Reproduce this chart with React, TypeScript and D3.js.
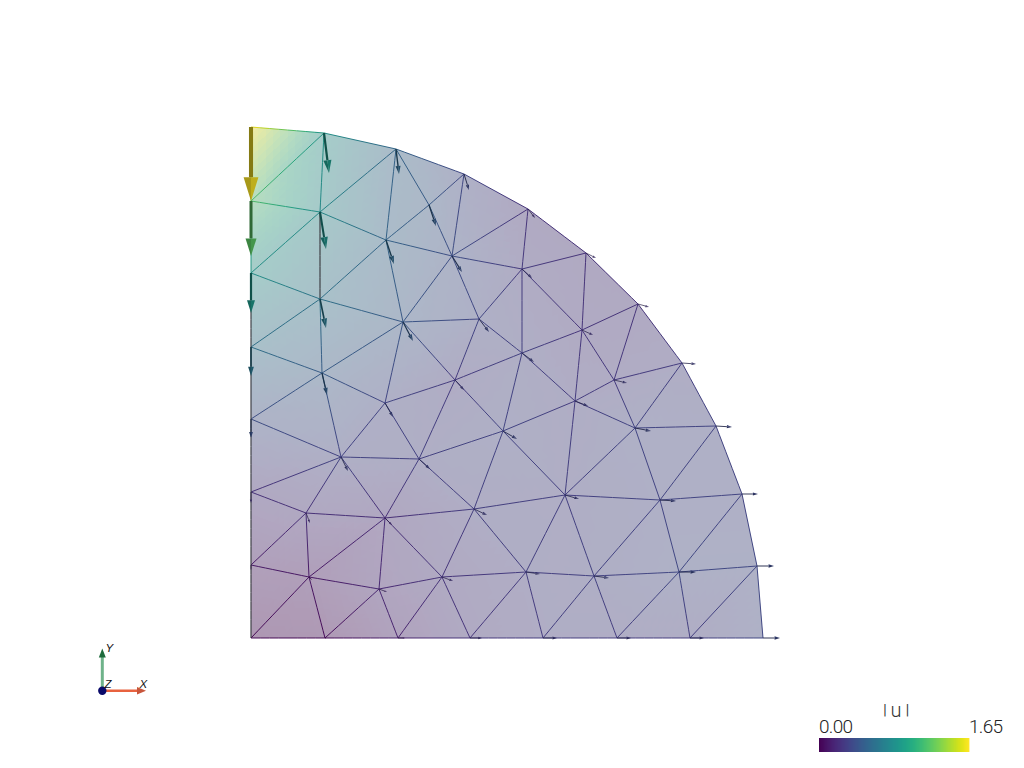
import React from "react";
import * as d3 from "d3";

// Mesh node positions (units: quarter-disc radius = 512)
const nodeX = [0,0,0,0,0,0,0,0,74,147,219,292,366,439,512,73,145,213,277,335,387,431,465,491,506,69,69,71,135,152,178,201,228,204,134,90,168,271,271,331,363,324,384,252,223,134,55,58,128,191,275,343,314,409,428];
const nodeY = [511,437,365,291,219,146,73,0,0,0,0,0,0,0,0,505,489,464,429,385,334,275,212,144,72,426,339,265,398,316,433,382,319,258,235,181,179,369,285,308,258,237,210,207,129,120,125,61,49,61,66,62,143,138,66];
// Displacement vectors at the nodes (same units)
const dispX = [0,0,0,0,0,0,0,0,1,7,12,14,14,14,17,5,3,5,7,10,11,14,16,16,17,6,6,5,8,10,7,10,10,9,8,7,11,10,12,11,13,13,16,14,13,7,4,3,8,11,14,15,14,16,17];
const dispY = [-74,-55,-40,-29,-19,-11,-5,0,0,0,0,0,0,0,0,-40,-25,-16,-9,-5,-3,-1,-1,0,0,-37,-29,-22,-24,-19,-21,-16,-13,-10,-14,-14,-10,-9,-9,-5,-3,-5,-3,-8,-6,-7,-10,-3,-3,-4,-2,-2,-4,-1,0];
// Mesh connectivity
const triangles: [number, number, number][] = [[0,15,1],[15,25,1],[1,25,2],[25,26,2],[2,26,3],[26,27,3],[3,27,4],[4,27,35],[4,35,5],[5,35,46],[5,46,6],[6,46,47],[6,47,7],[7,47,8],[47,48,8],[8,48,9],[9,48,49],[9,49,10],[10,49,50],[10,50,11],[11,50,51],[11,51,12],[12,51,54],[12,54,13],[13,54,24],[13,24,14],[54,23,24],[54,53,23],[53,22,23],[53,42,22],[42,21,22],[42,40,21],[40,20,21],[40,39,20],[39,19,20],[39,37,19],[37,18,19],[37,31,18],[31,17,18],[31,30,17],[30,16,17],[30,28,16],[28,25,16],[25,15,16],[25,28,26],[26,28,29],[26,29,27],[27,29,34],[27,34,35],[35,34,36],[34,33,36],[34,29,33],[29,32,33],[29,31,32],[28,31,29],[28,30,31],[31,37,32],[32,37,38],[32,38,33],[37,39,38],[38,39,41],[39,40,41],[41,40,42],[38,41,43],[33,38,43],[33,43,36],[36,43,44],[43,52,44],[43,41,52],[41,42,52],[42,53,52],[52,53,51],[53,54,51],[52,51,50],[44,52,50],[44,50,49],[45,44,49],[36,44,45],[35,36,45],[35,45,46],[46,45,47],[45,48,47],[45,49,48]];
// Mesh edges that read as dark grey in the picture
const greyEdges = ["25-26", "2-3", "3-4", "4-5", "5-6", "6-7"];

const colorbarTitleLeft = "|";
const colorbarTitleMid = "u";
const colorbarTitleRight = "|";
const colorbarMin = "0.00";
const colorbarMax = "1.65";
const axisLabels = ["Y", "Z", "X"];
const UNITS_PER_MAGNITUDE = 74 / 1.65;

const x = d3.scaleLinear().domain([0, 512]).range([251, 763]);
const y = d3.scaleLinear().domain([0, 511]).range([638, 127]);
const magnitude = nodeX.map((_, i) => Math.hypot(dispX[i], dispY[i]) / UNITS_PER_MAGNITUDE);
const t = d3.scalePow().exponent(1.05).domain([0, 1.65]).range([0, 1]).clamp(true);
const raw = d3.scaleLinear().domain([0, 1.65]).range([0, 1]).clamp(true);
const viridis = (v: number) => d3.rgb(d3.interpolateViridis(t(v)));

const OPACITY = 0.385;
const SHADE = 0.96;
const DESAT = 0.12;
function surface(v: number) {
  const c = viridis(v);
  const m = (a: number) => (a * OPACITY + 255 * (1 - OPACITY)) * SHADE;
  const r = m(c.r), g = m(c.g), b = m(c.b);
  const l = 0.3 * r + 0.59 * g + 0.11 * b;
  const d = (a: number) => a + (l - a) * DESAT;
  return d3.rgb(d(r), d(g), d(b)).formatHex();
}
function edgeColor(v: number) {
  return viridis(v).darker(0.2).formatHex();
}

const SUB = 10;
function Surface() {
  const parts: React.ReactElement[] = [];
  const bases: React.ReactElement[] = [];
  triangles.forEach(([a, b, c], ti) => {
    const baseCol = surface((magnitude[a] + magnitude[b] + magnitude[c]) / 3);
    bases.push(
      <path key={`b${ti}`} d={`M${x(nodeX[a])},${y(nodeY[a])}L${x(nodeX[b])},${y(nodeY[b])}L${x(nodeX[c])},${y(nodeY[c])}Z`} fill={baseCol} />
    );
    const P = (i: number, j: number) => {
      const k = SUB - i - j;
      const wx = (i * nodeX[a] + j * nodeX[b] + k * nodeX[c]) / SUB;
      const wy = (i * nodeY[a] + j * nodeY[b] + k * nodeY[c]) / SUB;
      const wv = (i * magnitude[a] + j * magnitude[b] + k * magnitude[c]) / SUB;
      return { px: x(wx), py: y(wy), v: wv };
    };
    const add = (p: any, q: any, r: any, key: string) => {
      const col = surface((p.v + q.v + r.v) / 3);
      parts.push(
        <path key={key} d={`M${p.px},${p.py}L${q.px},${q.py}L${r.px},${r.py}Z`} fill={col} />
      );
    };
    for (let i = 0; i < SUB; i++) {
      for (let j = 0; j < SUB - i; j++) {
        add(P(i, j), P(i + 1, j), P(i, j + 1), `t${ti}-${i}-${j}a`);
        if (i + j < SUB - 1) add(P(i + 1, j), P(i + 1, j + 1), P(i, j + 1), `t${ti}-${i}-${j}b`);
      }
    }
  });
  return <g>{bases}<g shapeRendering="crispEdges">{parts}</g></g>;
}

function Edges() {
  const seen = new Set<string>();
  const parts: React.ReactElement[] = [];
  const SEG = 8;
  triangles.forEach((tri) => {
    [[tri[0], tri[1]], [tri[1], tri[2]], [tri[2], tri[0]]].forEach(([a, b]) => {
      const key = `${Math.min(a, b)}-${Math.max(a, b)}`;
      if (seen.has(key)) return;
      seen.add(key);
      const grey = greyEdges.includes(key);
      for (let s = 0; s < SEG; s++) {
        const f0 = s / SEG, f1 = (s + 1) / SEG, fm = (f0 + f1) / 2;
        parts.push(
          <line key={`${key}-${s}`}
            x1={x(nodeX[a] + (nodeX[b] - nodeX[a]) * f0)} y1={y(nodeY[a] + (nodeY[b] - nodeY[a]) * f0)}
            x2={x(nodeX[a] + (nodeX[b] - nodeX[a]) * f1)} y2={y(nodeY[a] + (nodeY[b] - nodeY[a]) * f1)}
            stroke={grey ? "#3f4046" : edgeColor(magnitude[a] + (magnitude[b] - magnitude[a]) * fm)} strokeWidth={grey ? 1.2 : 0.95} strokeLinecap="butt" />
        );
      }
    });
  });
  return <g>{parts}</g>;
}

function Arrow({ i }: { i: number }) {
  const len = Math.hypot(dispX[i], dispY[i]);
  if (len === 0) return null;
  const x0 = x(nodeX[i]), y0 = y(nodeY[i]);
  const x1 = x(nodeX[i] + dispX[i]), y1 = y(nodeY[i] + dispY[i]);
  const L = Math.hypot(x1 - x0, y1 - y0);
  const ux = (x1 - x0) / L, uy = (y1 - y0) / L;
  const nx = -uy, ny = ux;
  const tip = 0.32 * L, hw = 0.1 * L, sw = Math.max(0.055 * L, 0.7);
  const bx = x1 - ux * tip, by = y1 - uy * tip;
  const base = d3.rgb(d3.interpolateViridis(raw(magnitude[i])));
  const main = base.darker(0.8).formatHex();
  const dark = base.darker(1.15).formatHex();
  const deep = base.darker(1.8).formatHex();
  return (
    <g>
      <line x1={x0} y1={y0} x2={bx} y2={by} stroke={deep} strokeWidth={sw} />
      <path d={`M${bx + nx * hw},${by + ny * hw}L${x1},${y1}L${bx},${by}Z`} fill={dark} />
      <path d={`M${bx - nx * hw},${by - ny * hw}L${x1},${y1}L${bx},${by}Z`} fill={main} />
    </g>
  );
}

function Colorbar() {
  const cx = d3.scaleLinear().domain([0, 1]).range([819, 969]);
  const steps = d3.range(0, 150).map((d) => d / 150);
  return (
    <g>
      {steps.map((s, i) => (
        <rect key={i} x={cx(s)} y={738} width={cx(1 / 150) - cx(0) + 0.4} height={14} fill={d3.interpolateViridis(Math.min(1, s + 1 / 300))} />
      ))}
      <g fontFamily="Roboto" fontWeight={300} fontSize={19} fill="#222" opacity={0.99}>
        <text x={885} y={715} textAnchor="middle" fontSize={14} fontWeight={400} fill="#333">{colorbarTitleLeft}</text>
        <text x={896} y={717} textAnchor="middle" fontSize={20} fill="#333">{colorbarTitleMid}</text>
        <text x={907.5} y={715} textAnchor="middle" fontSize={14} fontWeight={400} fill="#333">{colorbarTitleRight}</text>
        <text x={819} y={733} textLength={34} lengthAdjust="spacing">{colorbarMin}</text>
        <text x={969} y={733} textLength={34} lengthAdjust="spacing">{colorbarMax}</text>
      </g>
    </g>
  );
}

function Axes() {
  return (
    <g>
      <line x1={102.3} y1={691} x2={102.3} y2={655} stroke="#6fb38a" strokeWidth={3} />
      <path d="M98.8,657.5L102.3,648.5L105.8,657.5Z" fill="#1e6b3c" />
      <line x1={102} y1={690.7} x2={138} y2={690.7} stroke="#e8623f" strokeWidth={2.6} />
      <path d="M137,687L146,690.7L137,694.4Z" fill="#c8563c" />
      <circle cx={102.3} cy={690.7} r={4.2} fill="#0a0a6a" />
      <g fontFamily="Liberation Sans" fontStyle="italic" fontSize={11.5} fill="#111" opacity={0.99}>
        <text x={105.5} y={652}>{axisLabels[0]}</text>
        <text x={104.5} y={687.5}>{axisLabels[1]}</text>
        <text x={139.5} y={687.5}>{axisLabels[2]}</text>
      </g>
    </g>
  );
}

export default function App() {
  return (
    <svg width={1024} height={768} viewBox="0 0 1024 768" style={{ position: "absolute", left: 0, top: 0, display: "block", background: "#fff" }}>
      <Surface />
      <Edges />
      {nodeX.map((_, i) => <Arrow key={i} i={i} />)}
      <Axes />
      <Colorbar />
    </svg>
  );
}
